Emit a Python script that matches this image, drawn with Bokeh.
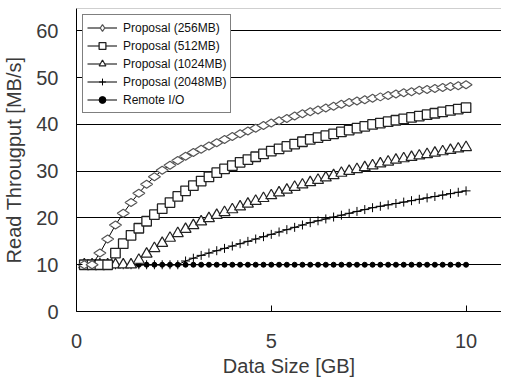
from bokeh.plotting import figure
from bokeh.models import (ColumnDataSource, Legend, LegendItem, FixedTicker,
                          Range1d, Span)
from bokeh.embed import file_html
from bokeh.resources import INLINE
import math

# ---------------- data ----------------
data_size = [0.2, 0.4, 0.6, 0.8, 1.0, 1.2, 1.4, 1.6, 1.8, 2.0,
             2.2, 2.4, 2.6, 2.8, 3.0, 3.2, 3.4, 3.6, 3.8, 4.0,
             4.2, 4.4, 4.6, 4.8, 5.0, 5.2, 5.4, 5.6, 5.8, 6.0,
             6.2, 6.4, 6.6, 6.8, 7.0, 7.2, 7.4, 7.6, 7.8, 8.0,
             8.2, 8.4, 8.6, 8.8, 9.0, 9.2, 9.4, 9.6, 9.8, 10.0]

proposal_256 = [10, 10, 12.5, 15.5, 18.5, 21.0, 23.3, 25.3, 27.2, 28.8,
                30.2, 31.3, 32.3, 33.2, 34.0, 34.7, 35.4, 36.1, 36.8, 37.4,
                38.0, 38.6, 39.2, 39.8, 40.3, 40.8, 41.3, 41.8, 42.3, 42.7,
                43.1, 43.5, 43.9, 44.3, 44.7, 45.0, 45.3, 45.6, 45.9, 46.2,
                46.5, 46.8, 47.0, 47.3, 47.5, 47.7, 47.9, 48.1, 48.3, 48.5]

proposal_512 = [10, 10, 10, 10, 12.5, 14.5, 16.3, 17.8, 19.3, 20.7,
                22.0, 23.3, 24.6, 25.8, 26.9, 27.9, 28.8, 29.7, 30.5, 31.2,
                31.9, 32.5, 33.1, 33.7, 34.3, 34.8, 35.3, 35.8, 36.3, 36.8,
                37.2, 37.6, 38.0, 38.4, 38.8, 39.2, 39.6, 40.0, 40.3, 40.6,
                40.9, 41.2, 41.5, 41.8, 42.1, 42.4, 42.7, 43.0, 43.3, 43.6]

proposal_1024 = [10, 10, 10, 10, 10, 10, 10, 11.0, 12.3, 13.5,
                 14.6, 15.7, 16.7, 17.6, 18.4, 19.2, 19.9, 20.6, 21.2, 21.8,
                 22.4, 23.0, 23.6, 24.2, 24.8, 25.4, 26.0, 26.6, 27.1, 27.6,
                 28.1, 28.6, 29.1, 29.6, 30.0, 30.4, 30.8, 31.2, 31.6, 32.0,
                 32.4, 32.7, 33.0, 33.3, 33.6, 33.9, 34.2, 34.5, 34.8, 35.1]

proposal_2048 = [10, 10, 10, 10, 10, 10, 10, 10, 10, 10,
                 10, 10, 10, 10.8, 11.4, 12.0, 12.5, 13.0, 13.5, 14.0,
                 14.5, 15.0, 15.5, 16.0, 16.5, 17.0, 17.5, 18.0, 18.5, 19.0,
                 19.4, 19.8, 20.2, 20.6, 21.0, 21.4, 21.8, 22.2, 22.5, 22.8,
                 23.1, 23.4, 23.7, 24.0, 24.3, 24.6, 24.9, 25.2, 25.5, 25.8]

remote_io = [10, 10, 10, 10, 10, 10, 10, 10, 10, 10,
             10, 10, 10, 10, 10, 10, 10, 10, 10, 10,
             10, 10, 10, 10, 10, 10, 10, 10, 10, 10,
             10, 10, 10, 10, 10, 10, 10, 10, 10, 10,
             10, 10, 10, 10, 10, 10, 10, 10, 10, 10]

series_labels = ["Proposal (256MB)", "Proposal (512MB)", "Proposal (1024MB)",
                 "Proposal (2048MB)", "Remote I/O"]
x_ticks = [0, 5, 10]
y_ticks = [0, 10, 20, 30, 40, 50, 60]

# ---------------- figure ----------------
FONT = "Liberation Sans"

p = figure(width=501, height=379, output_backend="svg", toolbar_location=None,
           x_range=Range1d(0, 10.91), y_range=Range1d(0, 64.8),
           min_border_left=70, min_border_right=0, min_border_top=8,
           min_border_bottom=0)
p.background_fill_color = "white"
p.border_fill_color = "white"
p.outline_line_color = None
p.add_layout(Span(location=64.8, dimension="width", line_color="#a0a0a0",
                  line_width=1))

p.xgrid.grid_line_color = None
p.ygrid.grid_line_color = "black"
p.ygrid.grid_line_width = 1

p.xaxis.ticker = FixedTicker(ticks=x_ticks)
p.yaxis.ticker = FixedTicker(ticks=y_ticks)
p.xaxis.minor_tick_line_color = None
p.yaxis.minor_tick_line_color = None
for ax in (p.xaxis, p.yaxis):
    ax.axis_line_color = "black"
    ax.major_tick_line_color = "black"
    ax.major_tick_out = 0
    ax.major_tick_in = 6
    ax.major_label_text_font = FONT
    ax.major_label_text_font_size = "20px"
    ax.major_label_text_color = "#3a3a3a"
    ax.axis_label_text_font = FONT
    ax.axis_label_text_font_size = "20px"
    ax.axis_label_text_font_style = "normal"
    ax.axis_label_text_color = "#3a3a3a"

p.xaxis.axis_label = "Data Size [GB]"
p.yaxis.axis_label = "Read Througput [MB/s]"
p.xaxis.major_label_standoff = 22
p.xaxis.axis_label_standoff = 4
p.yaxis.major_label_standoff = 18
p.yaxis.axis_label_standoff = 8

src = ColumnDataSource(dict(x=data_size, d256=proposal_256, d512=proposal_512,
                            d1024=proposal_1024, d2048=proposal_2048,
                            rio=remote_io))

items = []

def add_series(col, label, marker, size, line_color, fill_color, angle=0.0,
               lw=1.0):
    lr = p.line("x", col, source=src, line_color="black", line_width=1)
    sr = p.scatter("x", col, source=src, marker=marker, size=size,
                   angle=angle, line_color=line_color, fill_color=fill_color,
                   line_width=lw)
    items.append(LegendItem(label=label, renderers=[lr, sr]))

add_series("rio", series_labels[4], "circle", 5, "black", "black")
add_series("d2048", series_labels[3], "cross", 9, "black", None)
add_series("d1024", series_labels[2], "triangle", 11, "#222222", "white",
           lw=1.2)
add_series("d512", series_labels[1], "square", 9.5, "#222222", "white",
           lw=1.3)
add_series("d256", series_labels[0], "diamond", 12, "#555555", "white",
           angle=math.pi / 2, lw=1.2)

items = items[::-1]

legend = Legend(items=items, location="top_left", margin=6, padding=4,
                spacing=1, glyph_width=30, glyph_height=17, label_height=14,
                label_standoff=6, border_line_color="black",
                border_line_width=1, background_fill_color="white",
                background_fill_alpha=1.0,
                label_text_font=FONT, label_text_font_size="12px",
                label_text_color="#111111")
p.add_layout(legend, "center")

open("out.html", "w").write(file_html(p, INLINE))
